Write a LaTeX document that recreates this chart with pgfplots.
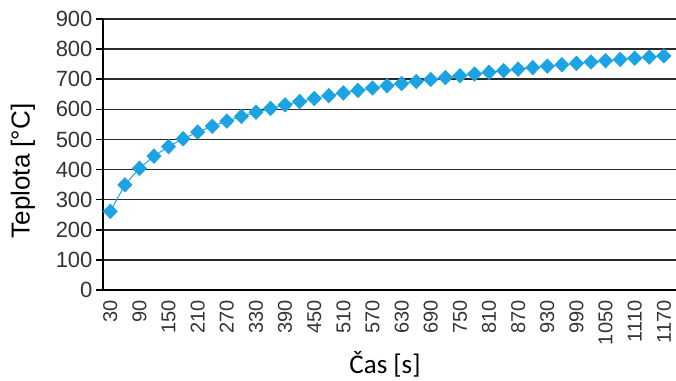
\documentclass[border=0pt]{standalone}
\usepackage{fontspec}
\setmainfont{Liberation Sans}
\newfontfamily\calibri{Carlito}
\usepackage{pgfplots}
\pgfplotsset{compat=1.18}
\definecolor{ser}{HTML}{1CA3E3}
\definecolor{gridc}{HTML}{2A2A2A}
\definecolor{tickc}{HTML}{333333}
\begin{document}
\begin{tikzpicture}[x=1pt,y=1pt]
\useasboundingbox (0,0) rectangle (676,380);
\begin{axis}[
  at={(103pt,90pt)}, anchor=south west,
  scale only axis, width=573pt, height=271pt,
  xmin=15, xmax=1195, ymin=0, ymax=900,
  axis x line=bottom, axis y line=left,
  axis line style={-, black, line width=1.6pt},
  ytick={0,100,...,900}, xtick={30,90,...,1170},
  ymajorgrids, grid style={gridc, line width=1.6pt},
  tick align=outside, major tick length=7pt,
  y tick style={black, line width=1.6pt},
  x tick style={draw=none},
  xticklabel style={rotate=90, anchor=east, font=\fontsize{20}{20}\selectfont, text=tickc},
  yticklabel style={font=\fontsize{22}{22}\selectfont, text=tickc},
  /pgf/number format/assume math mode=true,
  /pgf/number format/set thousands separator={},
  clip=false,
]
\addplot[color=ser, line width=1pt, mark=diamond*, mark size=7pt, mark options={fill=ser, draw=ser, xscale=1.3}] coordinates {
(30,261.1) (60,349.2) (90,404.3) (120,444.5) (150,476.2) (180,502.3) (210,524.5) (240,543.9)
(270,561.0) (300,576.4) (330,590.4) (360,603.1) (390,614.9) (420,625.8) (450,635.9) (480,645.5)
(510,654.4) (540,662.8) (570,670.8) (600,678.4) (630,685.6) (660,692.5) (690,699.1) (720,705.4)
(750,711.5) (780,717.3) (810,722.9) (840,728.3) (870,733.5) (900,738.6) (930,743.4) (960,748.2)
(990,752.7) (1020,757.2) (1050,761.5) (1080,765.7) (1110,769.8) (1140,773.7) (1170,777.6)
};
\end{axis}
\node[rotate=90, font=\fontsize{26}{26}\selectfont] at (23,209) {Teplota [°C]};
\node[font=\calibri\fontsize{27}{27}\selectfont] at (385,16) {Čas [s]};
\end{tikzpicture}
\end{document}
